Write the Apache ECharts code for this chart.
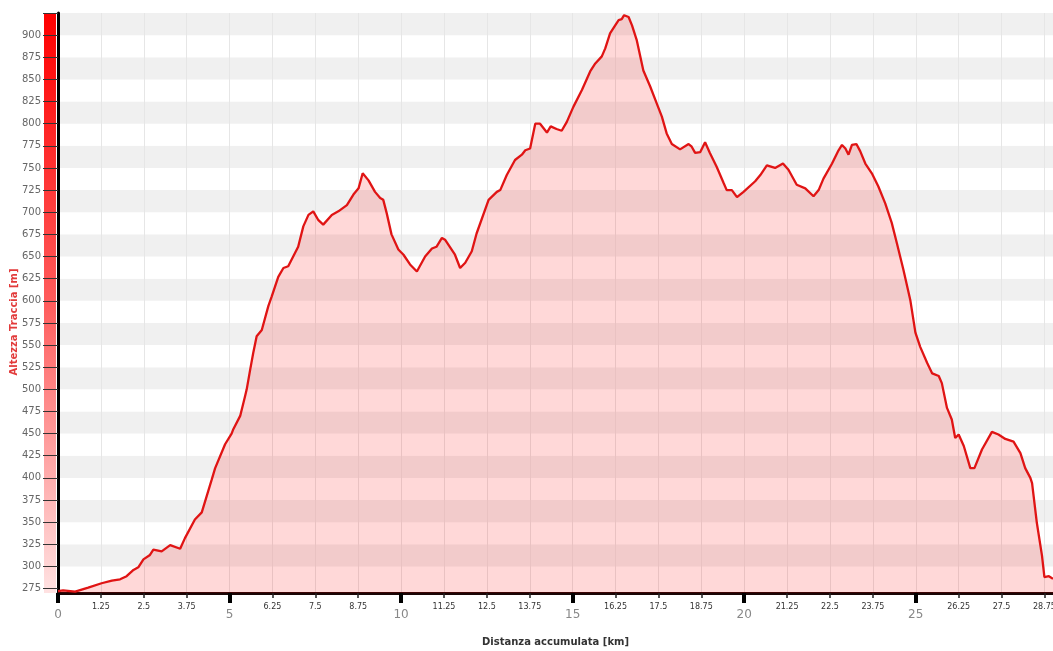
<!DOCTYPE html>
<html>
<head>
<meta charset="utf-8">
<script src="https://cdn.jsdelivr.net/npm/echarts@6/dist/echarts.min.js"></script>
<style>
    html, body { margin: 0; padding: 0; background: #fff; }
    #main_chart { width: 1053px; height: 651px; }
</style>
</head>
<body>
<div id="main_chart"></div>
<script>
// track profile: distance [km] / elevation [m]
var distKm = [0, 0.15, 0.5, 0.88, 1.27, 1.57, 1.81, 2.0, 2.2, 2.34, 2.49, 2.68, 2.78, 3.02, 3.27, 3.56, 3.7, 3.99, 4.19, 4.48,
    4.58, 4.87, 5.06, 5.11, 5.31, 5.45, 5.5, 5.6, 5.69, 5.79, 5.94, 6.13, 6.23, 6.42, 6.57, 6.71, 7.0, 7.15, 7.3, 7.44,
    7.59, 7.73, 7.98, 8.17, 8.42, 8.61, 8.76, 8.88, 9.05, 9.24, 9.39, 9.48, 9.58, 9.72, 9.92, 10.07, 10.26, 10.46, 10.7, 10.9,
    11.03, 11.19, 11.28, 11.57, 11.72, 11.87, 12.06, 12.2, 12.55, 12.79, 12.89, 13.08, 13.32, 13.52, 13.62, 13.76, 13.91, 14.05, 14.25, 14.36,
    14.53, 14.68, 14.83, 15.02, 15.27, 15.51, 15.66, 15.85, 15.95, 16.09, 16.24, 16.34, 16.43, 16.5, 16.63, 16.73, 16.87, 17.06, 17.26, 17.45,
    17.6, 17.74, 17.89, 18.13, 18.38, 18.47, 18.57, 18.72, 18.86, 19.0, 19.2, 19.4, 19.49, 19.64, 19.79, 19.98, 20.32, 20.47, 20.66, 20.9,
    21.13, 21.29, 21.53, 21.78, 22.02, 22.17, 22.31, 22.56, 22.75, 22.85, 22.95, 23.04, 23.14, 23.27, 23.38, 23.53, 23.72, 23.91, 24.11, 24.3,
    24.45, 24.64, 24.84, 24.99, 25.13, 25.33, 25.48, 25.67, 25.76, 25.91, 26.05, 26.15, 26.25, 26.4, 26.59, 26.71, 26.93, 27.22, 27.41, 27.61,
    27.85, 28.05, 28.19, 28.34, 28.39, 28.53, 28.68, 28.75, 28.88, 29.0];
var elevM = [272, 273, 271.5, 276, 281, 284, 285.5, 289, 296, 299, 308, 313, 319, 317, 324, 320, 332, 353, 361, 398,
    411, 438, 450, 455, 470, 492, 500, 522, 541, 560, 567, 594, 605, 627, 637, 639, 661, 684, 697, 701,
    691, 686, 697, 701, 708, 720, 727, 744, 736, 723, 716, 714, 699, 675, 658, 652, 641, 633, 650, 659,
    661, 671, 669, 652, 637, 643, 656, 676, 714, 723, 725, 742, 759, 765, 770, 772, 800, 800, 790, 797,
    794, 792, 802, 819, 838, 859, 868, 876, 885, 902, 911, 917, 918, 922.5, 920.5, 911, 894, 860, 842, 823,
    808, 789, 777, 771, 777, 774, 767, 768, 779, 767, 751, 733, 725, 725, 717, 723, 735, 742, 753, 750,
    755, 748, 731, 727, 718, 725, 738, 755, 770, 776, 772, 765, 776, 777, 769, 755, 744, 729, 710, 688,
    665, 635, 601, 564, 548, 530, 518, 515, 507, 479, 466, 445, 449, 436, 411, 411, 432, 452, 449, 444,
    441, 428, 411, 400, 394, 349, 312, 288, 289, 286];

// axis ticks
var minorTicksKm = [0, 1.25, 2.5, 3.75, 5, 6.25, 7.5, 8.75, 10, 11.25, 12.5, 13.75, 15, 16.25, 17.5, 18.75,
    20, 21.25, 22.5, 23.75, 25, 26.25, 27.5, 28.75];
var majorTicksKm = [0, 5, 10, 15, 20, 25];
var elevTicks = [275, 300, 325, 350, 375, 400, 425, 450, 475, 500, 525, 550, 575, 600, 625, 650, 675, 700,
    725, 750, 775, 800, 825, 850, 875, 900, 925];
var elevLabels = elevTicks.slice(0, elevTicks.length - 1);

var FONT = 'DejaVu Sans';

var myChart = echarts.init(document.getElementById('main_chart'));

var option = {
    animation: false,
    backgroundColor: '#ffffff',
    grid: {
        left: 58,
        right: 0,
        top: 13,
        bottom: 58,
        outerBoundsMode: 'none'
    },
    graphic: [{
        type: 'rect',
        z: -1,
        shape: {x: 44, y: 13, width: 12, height: 580},
        style: {
            fill: new echarts.graphic.LinearGradient(0, 0, 0, 1, [
                {offset: 0, color: '#ff0000'},
                {offset: 0.5, color: '#ff5c5c'},
                {offset: 1, color: '#ffe2e2'}
            ])
        }
    }, {
        type: 'text',
        x: 14,
        y: 322,
        rotation: Math.PI / 2,
        style: {
            text: 'Altezza Traccia [m]',
            fill: '#e23a3a',
            font: 'bold 10px ' + FONT,
            align: 'center',
            verticalAlign: 'middle'
        }
    }],
    xAxis: [{
        type: 'value',
        min: 0,
        max: 29,
        position: 'bottom',
        name: 'Distanza accumulata [km]',
        nameLocation: 'middle',
        nameGap: 44,
        nameTextStyle: {fontFamily: FONT, fontWeight: 'bold', fontSize: 10, color: '#333333'},
        axisLine: {show: true, lineStyle: {color: '#1a0505', width: 3}},
        axisTick: {show: true, customValues: minorTicksKm, length: 5, lineStyle: {color: '#222', width: 1.5}},
        axisLabel: {
            customValues: minorTicksKm,
            fontFamily: FONT,
            fontSize: 8,
            color: '#333333',
            margin: 10,
            formatter: function (v) {
                return v % 5 === 0 ? '' : String(v);
            }
        },
        splitLine: {show: true, lineStyle: {color: '#e6e6e6', width: 1}}
    }, {
        type: 'value',
        min: 0,
        max: 29,
        position: 'bottom',
        axisLine: {show: false},
        axisTick: {show: true, customValues: majorTicksKm, length: 10, lineStyle: {color: '#000', width: 4}},
        axisLabel: {
            customValues: majorTicksKm,
            fontFamily: FONT,
            fontSize: 12,
            color: '#888888',
            margin: 16
        },
        splitLine: {show: false}
    }],
    yAxis: {
        type: 'value',
        min: 270,
        max: 925,
        axisLine: {show: true, lineStyle: {color: '#000', width: 3}},
        axisTick: {show: true, customValues: elevTicks, length: 15, lineStyle: {color: '#333', width: 1}},
        axisLabel: {
            customValues: elevLabels,
            fontFamily: FONT,
            fontSize: 10,
            color: '#666666',
            margin: 17
        },
        splitLine: {show: false},
        splitArea: {show: true, areaStyle: {color: ['#ffffff', '#f0f0f0']}}
    },
    series: [{
        name: 'Altezza',
        type: 'line',
        xAxisIndex: 0,
        showSymbol: false,
        data: distKm.map(function (d, i) {
            return [d, elevM[i]];
        }),
        lineStyle: {color: '#e01414', width: 2.3},
        areaStyle: {color: 'rgba(255, 0, 0, 0.22)', origin: 'start'},
        z: 3
    }]
};

myChart.setOption(option);
</script>
</body>
</html>
